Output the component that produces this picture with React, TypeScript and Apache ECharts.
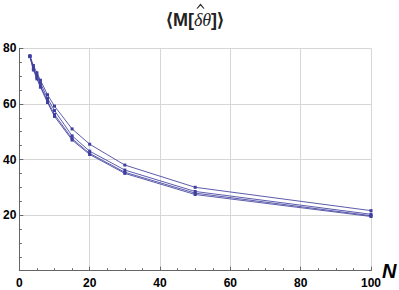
import React, { useEffect, useRef } from "react";
import * as echarts from "echarts";

const nValues = [3, 4, 5, 6, 8, 10, 15, 20, 30, 50, 100];
const series1 = [77.3, 73.8, 71.2, 68.5, 63.3, 59.2, 51.0, 45.5, 38.0, 30.0, 21.6];
const series2 = [77.2, 73.0, 70.2, 67.5, 62.0, 57.6, 48.5, 43.0, 36.2, 28.5, 20.3];
const series3 = [77.1, 72.5, 69.5, 66.5, 61.0, 56.2, 47.5, 42.2, 35.4, 27.9, 19.8];
const series4 = [77.0, 72.2, 69.0, 66.0, 60.5, 55.5, 47.0, 41.8, 35.0, 27.4, 19.5];
const allSeries = [series1, series2, series3, series4];

const LINE = "#3f3f9f";

export default function App() {
  const ref = useRef<HTMLDivElement>(null);
  useEffect(() => {
    if (!ref.current) return;
    const chart = echarts.init(ref.current, null, { renderer: "svg" });
    const axisCommon = {
      axisLine: { show: true, lineStyle: { color: "#666", width: 1 } },
      axisTick: { show: true, inside: true, length: 4, lineStyle: { color: "#666" } },
      minorTick: { show: true, splitNumber: 4, length: 2.5, lineStyle: { color: "#666" } },
      splitLine: { show: true, lineStyle: { color: "#d6d6d6", width: 1 } },
      minorSplitLine: { show: false },
    };
    chart.setOption({
      animation: false,
      backgroundColor: "#fff",
      grid: { left: 18, right: 28, top: 48.3, bottom: 19.3, containLabel: false },
      xAxis: {
        type: "value",
        min: 0,
        max: 100,
        interval: 20,
        ...axisCommon,
        axisLabel: {
          color: "#000",
          fontWeight: "bold",
          fontSize: 12,
          fontFamily: "Liberation Sans, Arial, sans-serif",
          margin: 6,
        },
      },
      yAxis: {
        type: "value",
        min: 0,
        max: 80,
        interval: 20,
        ...axisCommon,
        axisLabel: {
          color: "#000",
          fontWeight: "bold",
          fontSize: 12,
          fontFamily: "Liberation Sans, Arial, sans-serif",
          margin: 3,
          formatter: (v: number) => (v === 0 ? "" : String(v)),
        },
      },
      series: allSeries.map((s, i) => ({
        type: "line",
        name: "s" + (i + 1),
        data: nValues.map((n, j) => [n, s[j]]),
        symbol: "rect",
        symbolSize: 3,
        itemStyle: { color: LINE },
        lineStyle: { color: LINE, width: 1, opacity: 0.85 },
      })),
      graphic: [
        {
          type: "text",
          x: 195,
          y: 20,
          style: {
            text: "{a|⟨M[}{b|δθ}{a|]⟩}",
            align: "center",
            verticalAlign: "middle",
            rich: {
              a: {
                fontSize: 18,
                fontWeight: "bold",
                fontFamily: "Liberation Sans, Arial, sans-serif",
                fill: "#222",
              },
              b: {
                fontSize: 18,
                fontStyle: "italic",
                fontFamily: "Liberation Serif, Times New Roman, serif",
                fill: "#222",
              },
            },
          },
        },
        {
          type: "polygon",
          shape: {
            points: [
              [196.5, 8.5],
              [200.5, 3.5],
              [204.5, 8.5],
              [203.5, 8.8],
              [200.5, 5.5],
              [197.5, 8.8],
            ],
          },
          style: { fill: "#222" },
        },
        {
          type: "text",
          x: 382,
          y: 271,
          style: {
            text: "N",
            align: "left",
            verticalAlign: "middle",
            fontSize: 20,
            fontWeight: "bold",
            fontStyle: "italic",
            fontFamily: "Liberation Sans, Arial, sans-serif",
            fill: "#000",
          },
        },
      ],
    });
    return () => chart.dispose();
  }, []);
  return (
    <div
      ref={ref}
      style={{ position: "fixed", left: 0, top: 0, width: 399, height: 290 }}
    />
  );
}
